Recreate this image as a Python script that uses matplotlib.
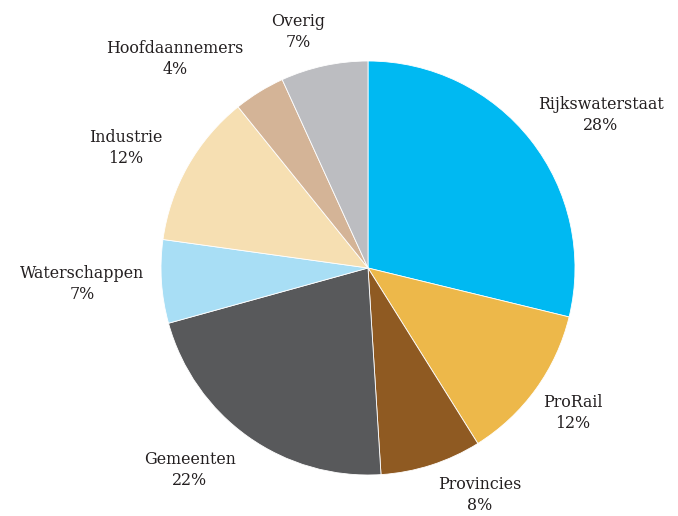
import matplotlib
matplotlib.use("Agg")
import matplotlib.pyplot as plt

# Share per client, clockwise from the top (slice sizes as drawn)
labels = ['Rijkswaterstaat', 'ProRail', 'Provincies', 'Gemeenten',
          'Waterschappen', 'Industrie', 'Hoofdaannemers', 'Overig']
shares = [28.8, 12.3, 7.9, 21.7, 6.5, 12.0, 4.0, 6.8]
pct_text = ['28%', '12%', '8%', '22%', '7%', '12%', '4%', '7%']
colors = ['#00B9F2', '#EDB84A', '#8F5A22', '#58595B',
          '#A8DEF5', '#F6DFB2', '#D4B497', '#BCBDC1']

# label centres in pixels of the 678x516 picture
label_px = [(601, 115), (573, 413), (480, 495), (190, 470),
            (82, 284), (126, 148), (175, 59), (298, 32)]

W, H = 678, 516
cx, cy, r = 368, 268, 207

fig = plt.figure(figsize=(W / 100, H / 100), dpi=100)
ax = fig.add_axes([(cx - r) / W, (H - cy - r) / H, 2 * r / W, 2 * r / H])
ax.pie(shares, colors=colors, startangle=90, counterclock=False,
       wedgeprops=dict(edgecolor='white', linewidth=0.6))
ax.set_xlim(-1, 1)
ax.set_ylim(-1, 1)
ax.set_aspect('auto')
ax.axis('off')

for lab, pct, (px, py) in zip(labels, pct_text, label_px):
    ax.text((px - cx) / r, (cy - py) / r, f'{lab}\n{pct}',
            ha='center', va='center', fontsize=11.4, family='DejaVu Serif',
            color='#231F20', linespacing=1.35, clip_on=False)

fig.savefig('out.png', dpi=100)
